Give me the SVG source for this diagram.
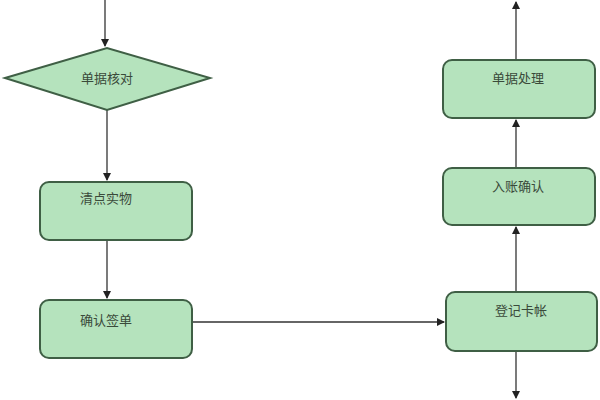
<svg xmlns="http://www.w3.org/2000/svg" width="600" height="400" viewBox="0 0 600 400">
<style>
.n{fill:#b5e3bd;stroke:#3f5f45;stroke-width:2}
.t{font-family:"Noto Sans CJK SC",sans-serif;font-size:13px;fill:#3a4a3a;text-anchor:middle}
.c{stroke:#333;stroke-width:1.3;fill:none;marker-end:url(#a)}
</style>
<defs><marker id="a" markerWidth="8" markerHeight="8" refX="7" refY="4" orient="auto" markerUnits="userSpaceOnUse"><path d="M0,0L8,4L0,8z" fill="#222"/></marker></defs>
<rect width="600" height="400" fill="#fff"/>
<g id="connectors">
<path class="c" d="M105,0V46"/>
<path class="c" d="M107,110V180"/>
<path class="c" d="M107,240V298"/>
<path class="c" d="M192,322H444"/>
<path class="c" d="M516,352V398"/>
<path class="c" d="M516,292V227"/>
<path class="c" d="M516,168V120"/>
<path class="c" d="M516,60V2"/>
</g>
<g id="n1"><polygon class="n" points="5,78 107,48 210,78 107,110"/><text class="t" x="107" y="83">单据核对</text></g>
<g id="n2"><rect class="n" x="40" y="182" width="152" height="58" rx="9"/><text class="t" x="106" y="203">清点实物</text></g>
<g id="n3"><rect class="n" x="40" y="300" width="152" height="58" rx="9"/><text class="t" x="106" y="325">确认签单</text></g>
<g id="n4"><rect class="n" x="446" y="292" width="151" height="59" rx="9"/><text class="t" x="521" y="315">登记卡帐</text></g>
<g id="n5"><rect class="n" x="443" y="168" width="152" height="57" rx="9"/><text class="t" x="518" y="191">入账确认</text></g>
<g id="n6"><rect class="n" x="443" y="60" width="152" height="58" rx="9"/><text class="t" x="518" y="83">单据处理</text></g>
</svg>
